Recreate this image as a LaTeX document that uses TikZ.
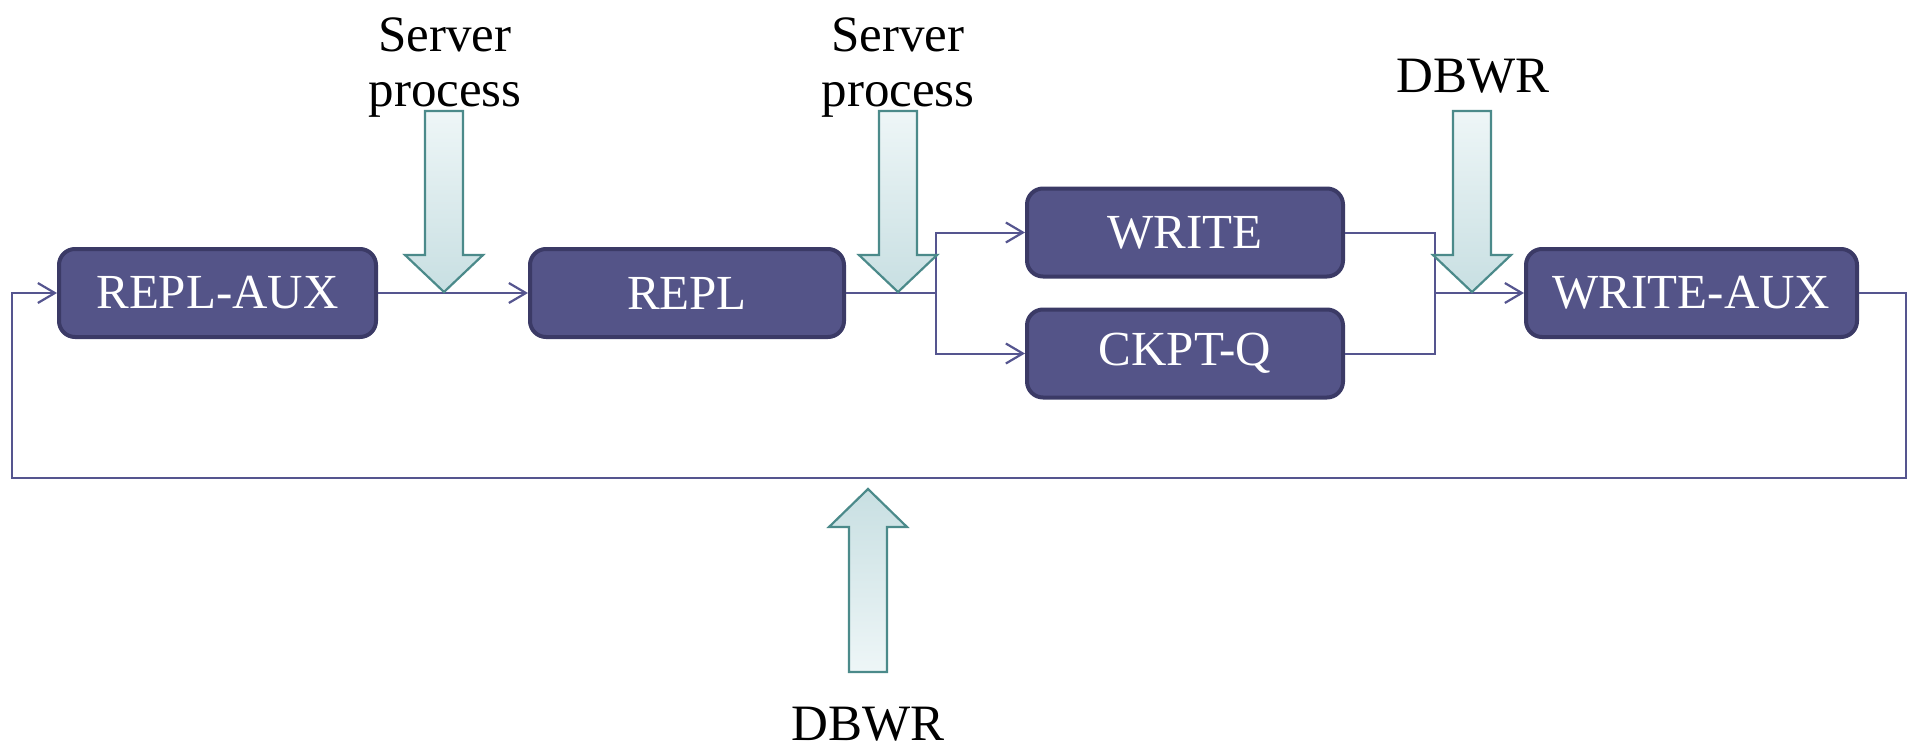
\documentclass[tikz,border=0pt]{standalone}
\usepackage{fontspec}
\setmainfont{Liberation Serif}
\usetikzlibrary{arrows.meta}
\definecolor{boxfill}{HTML}{545488}
\definecolor{boxedge}{HTML}{3B3A66}
\definecolor{conncol}{HTML}{55558F}
\definecolor{arredge}{HTML}{4B8A8A}
\definecolor{arrdark}{HTML}{C8DFE2}
\definecolor{arrlight}{HTML}{EEF6F7}
\tikzset{
  procbox/.style={draw=boxedge, fill=boxfill, line width=2pt, rounded corners=8pt,
    minimum height=44pt, text=white, font=\fontsize{24.5}{28}\selectfont, inner sep=0pt},
  conn/.style={draw=conncol, line width=1pt},
  tip/.style={-{Straight Barb[length=8.5pt,width=10pt,line width=1.1pt]}},
  bigarrow/.style={draw=arredge, line width=1.1pt},
  lbl/.style={font=\fontsize{25.5}{27.5}\selectfont, inner sep=0pt, align=center}
}
\newcommand\bigdownarrow[1]{%
  \path[bigarrow, top color=arrlight, bottom color=arrdark, shift={(#1,0)}]
    (-19,111) -- (19,111) -- (19,255) -- (39,255) -- (0,292) -- (-39,255) -- (-19,255) -- cycle;}
\begin{document}
\begin{tikzpicture}[x=0.5pt, y=-0.5pt]
\useasboundingbox (0,0) rectangle (1917,749);
% boxes
\node[procbox, minimum width=158.5pt] (ra) at (217.5,293) {REPL-AUX};
\node[procbox, minimum width=157pt] (repl) at (687,293) {REPL};
\node[procbox, minimum width=158pt] (write) at (1185,232.5) {WRITE};
\node[procbox, minimum width=158pt] (ckpt) at (1185,353.5) {CKPT-Q};
\node[procbox, minimum width=165.5pt] (wa) at (1691.5,293) {WRITE-AUX};
% connectors
\coordinate (fork) at (936,293);
\coordinate (join) at (1435,293);
\coordinate (loopr) at (1906,478);
\coordinate (loopl) at (12,293);
\draw[conn, tip] (ra.east) -- (repl.west);
\draw[conn] (repl.east) -- (fork);
\draw[conn, tip] (fork) |- (write.west);
\draw[conn, tip] (fork) |- (ckpt.west);
\draw[conn] (write.east) -| (join);
\draw[conn] (ckpt.east) -| (join);
\draw[conn, tip] (join) -- (wa.west);
\draw[conn, tip] (wa.east) -| (loopr) -| (loopl) -- (ra.west);
% big arrows
\bigdownarrow{444}
\bigdownarrow{898}
\bigdownarrow{1472}
\path[bigarrow, top color=arrdark, bottom color=arrlight]
  (849,672) -- (887,672) -- (887,527) -- (907,527) -- (868,489) -- (829,527) -- (849,527) -- cycle;
% labels
\node[lbl, anchor=north] (sp1) at (445,17) {Server\\process};
\node[lbl, anchor=north] (sp2) at (898,17) {Server\\process};
\node[lbl, anchor=base] (db1) at (1473,93) {DBWR};
\node[lbl, anchor=base] (db2) at (868,740) {DBWR};
\end{tikzpicture}
\end{document}
